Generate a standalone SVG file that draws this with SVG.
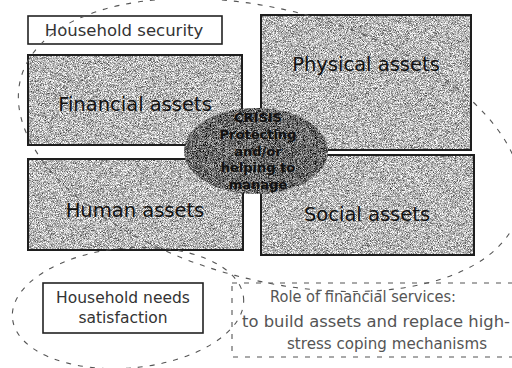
<svg xmlns="http://www.w3.org/2000/svg" width="512" height="368" viewBox="0 0 512 368">
  <style>
    text { font-family: "DejaVu Sans", Verdana, sans-serif; }
    .box { stroke: #1e1e1e; stroke-width: 2; fill: none; }
    .fillbox { fill: #aaa; filter: url(#grain); }
    .label { font-size: 19.5px; fill: #111; text-anchor: middle; }
    .plain { fill: #fff; stroke: #222; stroke-width: 1.6; }
    .ptext { font-size: 15.5px; fill: #333; text-anchor: middle; }
    .crisis { font-size: 13px; fill: #111; text-anchor: middle; font-weight: bold; }
    .dash { fill: none; stroke: #555; stroke-width: 1.1; stroke-dasharray: 5 7; }
    .role { font-size: 15px; fill: #555; }
  </style>
  <defs>
    <filter id="grain" x="0" y="0" width="100%" height="100%" color-interpolation-filters="sRGB">
      <feTurbulence type="fractalNoise" baseFrequency="1.4" numOctaves="2" seed="7" result="n"/>
      <feColorMatrix in="n" type="matrix" values="1.5 0 0 0 -0.03  1.5 0 0 0 -0.03  1.5 0 0 0 -0.03  0 0 0 0 1" result="g"/>
      <feComposite in="g" in2="SourceGraphic" operator="in"/>
    </filter>
    <filter id="grainDark" x="0" y="0" width="100%" height="100%" color-interpolation-filters="sRGB">
      <feTurbulence type="fractalNoise" baseFrequency="1.4" numOctaves="2" seed="11" result="n"/>
      <feColorMatrix in="n" type="matrix" values="1.5 0 0 0 -0.33  1.5 0 0 0 -0.33  1.5 0 0 0 -0.33  0 0 0 0 1" result="g"/>
      <feComposite in="g" in2="SourceGraphic" operator="in"/>
    </filter>
  </defs>

  <rect width="512" height="368" fill="#fff"/>

  <g id="household-security">
    <rect class="plain" x="28" y="16" width="194" height="28"/>
    <text class="ptext" x="124" y="36" style="font-size:16.5px">Household security</text>
  </g>

  <g id="financial-assets">
    <rect class="fillbox" x="28" y="55" width="214" height="90"/>
    <rect class="box" x="28" y="55" width="214" height="90"/>
    <text class="label" x="135" y="111">Financial assets</text>
  </g>

  <g id="physical-assets">
    <rect class="fillbox" x="261" y="15" width="210" height="135"/>
    <rect class="box" x="261" y="15" width="210" height="135"/>
    <text class="label" x="366" y="71">Physical assets</text>
  </g>

  <g id="human-assets">
    <rect class="fillbox" x="28" y="159" width="215" height="91"/>
    <rect class="box" x="28" y="159" width="215" height="91"/>
    <text class="label" x="135" y="217">Human assets</text>
  </g>

  <g id="social-assets">
    <rect class="fillbox" x="261" y="155" width="213" height="100"/>
    <rect class="box" x="261" y="155" width="213" height="100"/>
    <text class="label" x="367" y="221">Social assets</text>
  </g>

  <g id="crisis">
    <ellipse cx="256" cy="151" rx="72" ry="43" fill="#666" filter="url(#grainDark)"/>
    <text class="crisis" x="258" y="122">CRISIS</text>
    <text class="crisis" x="258" y="139">Protecting</text>
    <text class="crisis" x="258" y="156">and/or</text>
    <text class="crisis" x="258" y="172">helping to</text>
    <text class="crisis" x="258" y="189">manage</text>
  </g>

  <g id="household-needs">
    <rect class="plain" x="43" y="283" width="160" height="50"/>
    <text class="ptext" x="123" y="303">Household needs</text>
    <text class="ptext" x="123" y="323">satisfaction</text>
  </g>

  <g id="role-of-financial-services">
    <rect class="dash" x="232" y="283" width="290" height="74"/>
    <text class="role" x="270" y="302" textLength="186" lengthAdjust="spacingAndGlyphs">Role of financial services:</text>
    <text class="role" x="242" y="327" textLength="268" lengthAdjust="spacingAndGlyphs">to build assets and replace high-</text>
    <text class="role" x="287" y="349" textLength="200" lengthAdjust="spacingAndGlyphs">stress coping mechanisms</text>
  </g>

  <g id="connectors">
    <ellipse class="dash" cx="270" cy="145" rx="258" ry="135" transform="rotate(15 270 145)"/>
    <ellipse class="dash" cx="128" cy="308" rx="116" ry="60" transform="rotate(-5 128 308)"/>
  </g>
</svg>
